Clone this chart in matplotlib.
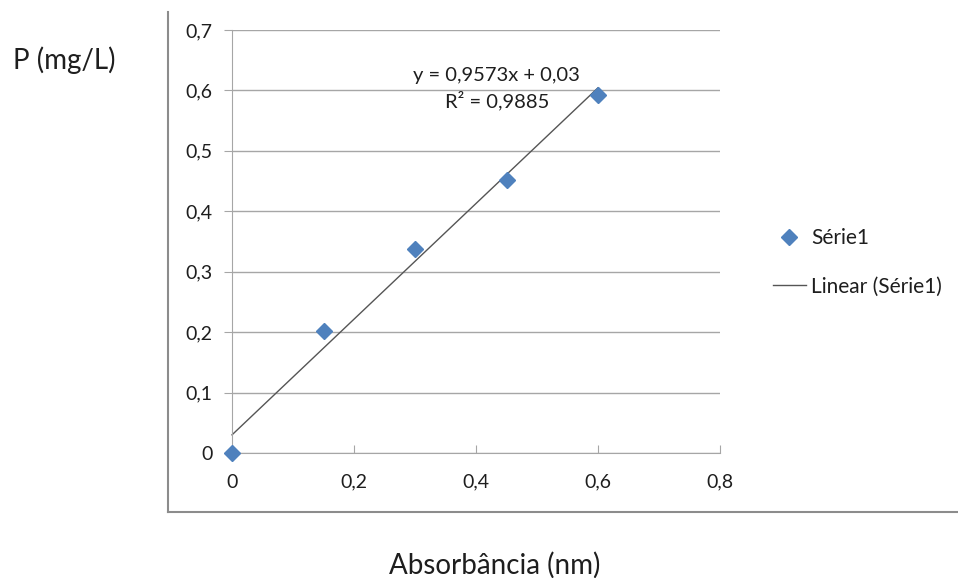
import matplotlib
matplotlib.use('Agg')
import matplotlib.pyplot as plt
from matplotlib.lines import Line2D
import numpy as np

plt.rcParams['font.family'] = ['Lato', 'DejaVu Sans']

# readings taken off the chart
absorbancia = [0.0, 0.15, 0.30, 0.45, 0.60]
fosforo = [0.0, 0.202, 0.338, 0.451, 0.593]
slope, intercept, r2 = 0.9573, 0.03, 0.9885
xticks = [0, 0.2, 0.4, 0.6, 0.8]
yticks = [0, 0.1, 0.2, 0.3, 0.4, 0.5, 0.6, 0.7]

fig = plt.figure(figsize=(9.58, 5.78), dpi=100)
ax = fig.add_axes([0.2422, 0.2163, 0.5094, 0.7318])

grid_col = '#a6a6a6'
txt_col = '#1e1e1e'
ax.set_xlim(0, 0.8)
ax.set_ylim(0, 0.7)
ax.set_xticks(xticks)
ax.set_yticks(yticks)
ax.set_xticklabels([('%g' % t).replace('.', ',') for t in xticks])
ax.set_yticklabels([('%g' % t).replace('.', ',') for t in yticks])
ax.yaxis.grid(True, color=grid_col, lw=1)
ax.set_axisbelow(True)
for s in ['top', 'right']:
    ax.spines[s].set_visible(False)
for s in ['left', 'bottom']:
    ax.spines[s].set_color(grid_col)
ax.tick_params(axis='x', direction='in', length=6, color=grid_col, labelsize=14,
               labelcolor=txt_col, pad=15)
ax.tick_params(axis='y', direction='out', length=6, color=grid_col, labelsize=14,
               labelcolor=txt_col, pad=8)

# trend line across the data range
xs = np.array([min(absorbancia), max(absorbancia)])
ax.plot(xs, slope * xs + intercept, color='#555555', lw=1, label='Linear (Série1)',
        clip_on=False, zorder=2)
ax.plot(absorbancia, fosforo, linestyle='none', marker='D', markersize=8.5,
        color='#4f81bd', label='Série1', clip_on=False, zorder=3)

ax.text(0.434, 0.6026, 'y = 0,9573x + 0,03\nR² = 0,9885', ha='center', va='center',
        fontsize=14.5, color=txt_col, linespacing=1.4)

handles, labels = ax.get_legend_handles_labels()
ax.legend(handles[::-1], labels[::-1], loc='center left', frameon=False,
          bbox_to_anchor=(0.787, 0.546), bbox_transform=fig.transFigure,
          fontsize=15, handlelength=1.6, labelspacing=1.35, handletextpad=0.25,
          labelcolor=txt_col)

fig.text(0.067, 0.895, 'P (mg/L)', fontsize=20, ha='center', va='center', color=txt_col)
fig.text(0.516, 0.022, 'Absorbância (nm)', fontsize=20, ha='center', va='center',
         color=txt_col)

# outer chart frame (only left and bottom edges visible)
frame_col = '#8c8c8c'
fig.add_artist(Line2D([168 / 958, 168 / 958], [1 - 12 / 578, 1 - 512 / 578],
                      transform=fig.transFigure, color=frame_col, lw=1.5))
fig.add_artist(Line2D([168 / 958, 1.0], [1 - 512 / 578, 1 - 512 / 578],
                      transform=fig.transFigure, color=frame_col, lw=1.5))

fig.savefig('out.png', dpi=100)
